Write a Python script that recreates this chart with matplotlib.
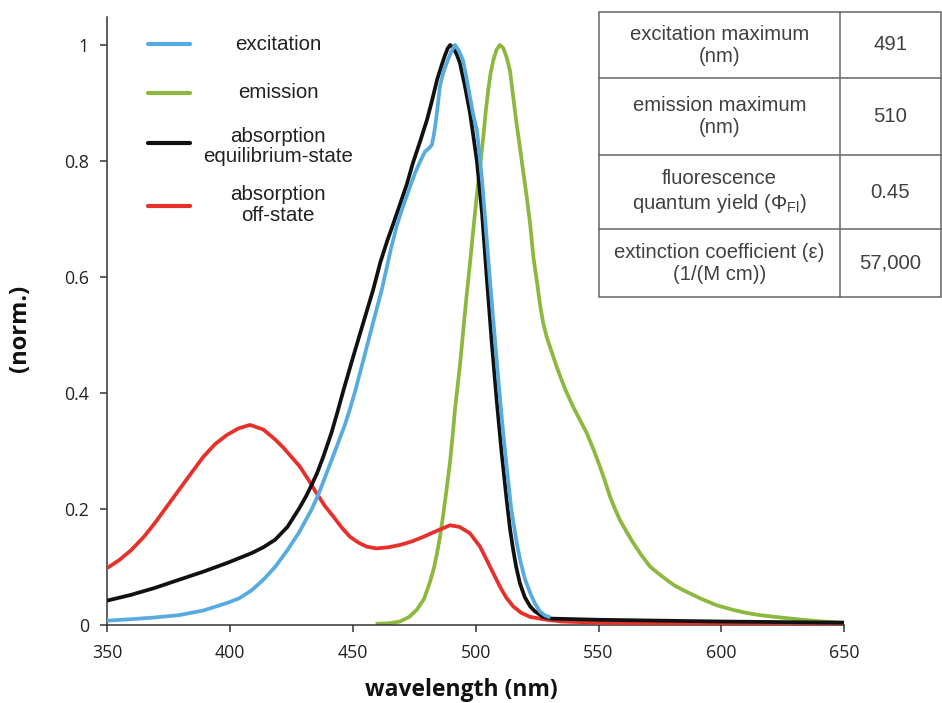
import matplotlib
matplotlib.use("Agg")
import matplotlib.pyplot as plt
from matplotlib.lines import Line2D
from matplotlib.patches import Rectangle

# ---------------- data ----------------
exc_nm = [350, 359.8, 369.5, 379.3, 389.2, 398.9, 403.8, 408.9, 413.6, 418.4, 423.4, 428.2,
          433.1, 436, 438.0, 441, 443.5, 446.8, 448.8, 450.9, 454.2, 458.3, 461.8, 465.5, 468,
          470.4, 473, 475.3, 477.5, 479.4, 481, 482.2, 483, 483.8, 484.7, 485.5, 487, 488.7,
          490.2, 491.6, 493.2, 494.8, 496.2, 497.7, 499, 500.5, 501.6, 502.6, 503.6, 504.6, 506,
          507.5, 509.3, 511, 512.8, 514.5, 516, 517, 518.1, 520, 522.2, 524, 526.2, 528.4, 530.4]
exc_val = [0.0075, 0.010, 0.013, 0.017, 0.025, 0.038, 0.046, 0.060, 0.078, 0.100, 0.129, 0.160,
           0.198, 0.225, 0.247, 0.280, 0.308, 0.345, 0.372, 0.402, 0.455, 0.522, 0.578, 0.648,
           0.690, 0.721, 0.752, 0.779, 0.800, 0.816, 0.822, 0.828, 0.845, 0.868, 0.900, 0.930,
           0.955, 0.974, 0.990, 1.0, 0.990, 0.974, 0.945, 0.910, 0.880, 0.853, 0.810, 0.767,
           0.715, 0.660, 0.585, 0.510, 0.420, 0.340, 0.265, 0.200, 0.160, 0.135, 0.112, 0.080,
           0.055, 0.038, 0.023, 0.016, 0.013]

em_nm = [459.3, 465, 469.2, 473, 476, 479, 481.4, 483, 484.1, 485.5, 486.8, 488, 489.6, 490.6,
         491.6, 492.6, 493.6, 495, 496.3, 497.7, 499, 500.4, 501.8, 503.1, 504.1, 505.1, 506.1,
         507.2, 508.5, 509.9, 511.2, 512.6, 514, 515.3, 516.6, 518, 519.4, 520.8, 522.2, 523.5,
         525, 526.2, 527.5, 528.9, 531, 533, 535, 537.1, 539.7, 542.5, 545.2, 548, 550.6, 552.7,
         554.7, 556.7, 558.7, 561.5, 564.2, 567.5, 570.9, 574.3, 577.7, 581, 584.5, 588, 591.3,
         594.7, 598.1, 604.8, 610, 615.7, 624, 633, 641, 650]
em_val = [0.002, 0.003, 0.006, 0.014, 0.026, 0.045, 0.074, 0.098, 0.120, 0.152, 0.190, 0.228,
          0.282, 0.325, 0.372, 0.410, 0.447, 0.510, 0.567, 0.624, 0.680, 0.738, 0.790, 0.841,
          0.885, 0.922, 0.952, 0.974, 0.992, 1.0, 0.995, 0.979, 0.955, 0.910, 0.866, 0.824,
          0.780, 0.738, 0.690, 0.634, 0.590, 0.552, 0.520, 0.497, 0.470, 0.445, 0.422, 0.400,
          0.376, 0.353, 0.331, 0.302, 0.273, 0.247, 0.221, 0.200, 0.181, 0.160, 0.141, 0.120,
          0.101, 0.089, 0.078, 0.068, 0.060, 0.053, 0.046, 0.040, 0.034, 0.026, 0.021, 0.017,
          0.013, 0.009, 0.006, 0.004]

abs_eq_nm = [350, 359.8, 369.5, 379.3, 389.2, 398.9, 408.9, 413.6, 418.4, 423.4, 428.2, 431,
             433.1, 435.5, 438.0, 441.3, 443.7, 446.1, 450.2, 454.2, 458.3, 461.2, 464, 466.5,
             469.2, 472, 474.5, 477.5, 480.2, 482.3, 484.3, 486, 487.5, 488.6, 489.6, 490.8,
             492.2, 493.6, 495.6, 497.7, 499, 500.5, 502.6, 504.5, 506.5, 508.5, 510.5, 512.5,
             514, 515.3, 516.5, 518, 520, 522.2, 524, 527.4, 531, 550, 600, 650]
abs_eq_val = [0.042, 0.052, 0.064, 0.078, 0.092, 0.107, 0.124, 0.134, 0.147, 0.169, 0.201, 0.222,
              0.240, 0.262, 0.290, 0.331, 0.366, 0.403, 0.463, 0.520, 0.578, 0.625, 0.662,
              0.692, 0.725, 0.760, 0.797, 0.835, 0.871, 0.905, 0.940, 0.963, 0.982, 0.994, 1.0,
              0.996, 0.985, 0.969, 0.930, 0.883, 0.845, 0.800, 0.710, 0.600, 0.490, 0.390,
              0.300, 0.220, 0.165, 0.129, 0.100, 0.072, 0.048, 0.032, 0.024, 0.014, 0.011,
              0.009, 0.006, 0.004]

abs_off_nm = [350, 355, 359.8, 365, 369.5, 374.5, 379.3, 384.3, 389.2, 394, 398.9, 403.5, 408.2,
              413.6, 418.4, 421.7, 425, 428.5, 432, 435.3, 438.7, 442.1, 445.5, 448.9, 452.3,
              455.7, 459.7, 464.5, 469.2, 474, 478.7, 484, 489.6, 493.5, 497.7, 501.8, 505.8,
              509.9, 512.5, 515.3, 518.5, 522.1, 528.9, 535, 550, 600, 650]
abs_off_val = [0.098, 0.112, 0.129, 0.152, 0.176, 0.205, 0.233, 0.262, 0.290, 0.312, 0.328,
               0.339, 0.345, 0.337, 0.320, 0.306, 0.290, 0.273, 0.250, 0.227, 0.205, 0.187,
               0.168, 0.152, 0.142, 0.135, 0.132, 0.134, 0.138, 0.144, 0.152, 0.162, 0.172,
               0.169, 0.158, 0.135, 0.101, 0.066, 0.047, 0.032, 0.021, 0.014, 0.009, 0.006,
               0.004, 0.002, 0.002]

series_labels = ["excitation", "emission", "absorption\nequilibrium-state", "absorption\noff-state"]
series_colors = ["#58abe0", "#8cb83e", "#111111", "#e8302a"]

x_ticks = [350, 400, 450, 500, 550, 600, 650]
y_ticks = [0, 0.2, 0.4, 0.6, 0.8, 1.0]
y_tick_labels = ["0", "0.2", "0.4", "0.6", "0.8", "1"]

table_props = ["excitation maximum\n(nm)", "emission maximum\n(nm)",
               "fluorescence\nquantum yield (Φ$_{\\mathregular{Fl}}$)",
               "extinction coefficient (ε)\n(1/(M cm))"]
table_vals = ["491", "510", "0.45", "57,000"]

# ---------------- figure ----------------
W, H = 942, 703
fig = plt.figure(figsize=(W / 100, H / 100), dpi=100)
fig.patch.set_facecolor("white")


def fx(px):
    return px / W


def fy(py):
    return 1 - py / H


ax_l, ax_r, ax_b, ax_t = 107, 844.3, 625, 17
ax = fig.add_axes([fx(ax_l), fy(ax_b), (ax_r - ax_l) / W, (ax_b - ax_t) / H])

lw = 2.7
kw = dict(lw=lw, solid_capstyle="butt", solid_joinstyle="round")
ax.plot(em_nm, em_val, color=series_colors[1], zorder=2, **kw)
ax.plot(abs_off_nm, abs_off_val, color=series_colors[3], zorder=3, **kw)
ax.plot(abs_eq_nm, abs_eq_val, color=series_colors[2], zorder=4, **kw)
ax.plot(exc_nm, exc_val, color=series_colors[0], zorder=5, **kw)

ax.set_xlim(350, 650)
ax.set_ylim(0, (ax_b - ax_t) / 580)
ax.set_xticks(x_ticks)
ax.set_yticks(y_ticks)
ax.set_yticklabels(y_tick_labels)
for s in ["top", "right"]:
    ax.spines[s].set_visible(False)
for s in ["left", "bottom"]:
    ax.spines[s].set_color("#333333")
    ax.spines[s].set_linewidth(1.1)
ax.tick_params(axis="both", direction="out", length=5, width=1.1, color="#333333",
               labelsize=12.8, labelcolor="#222222")
ax.tick_params(axis="y", pad=8)
ax.tick_params(axis="x", pad=9)
for lab in ax.get_xticklabels() + ax.get_yticklabels():
    lab.set_fontfamily("Open Sans")

fig.text(fx(461), fy(690), "wavelength (nm)", ha="center", va="center",
         fontsize=16.5, fontweight="bold", family="Open Sans", color="#111111")
fig.text(fx(20), fy(328), "(norm.)", ha="center", va="center", rotation=90,
         fontsize=17, fontweight="bold", family="Open Sans", color="#111111")

# ---------------- legend (manual) ----------------
leg_rows_y = [44, 93, 143, 206]
leg_text_y = [44, 93, 146.5, 205]
for i, (yy, ty) in enumerate(zip(leg_rows_y, leg_text_y)):
    fig.add_artist(Line2D([fx(148), fx(190)], [fy(yy), fy(yy)], color=series_colors[i],
                          lw=3.0, solid_capstyle="round"))
    fig.text(fx(278), fy(ty), series_labels[i], ha="center", va="center",
             fontsize=14.8, family="Liberation Sans", color="#222222", linespacing=1.12,
             multialignment="center")

# ---------------- table (manual) ----------------
tx0, tx1, tx2 = 599, 840, 941
rows = [12, 78, 155, 229, 297]
edge = "#666666"
fig.add_artist(Rectangle((fx(tx0), fy(rows[-1])), fx(tx2) - fx(tx0), fy(rows[0]) - fy(rows[-1]),
                         fill=False, edgecolor=edge, lw=1.1))
fig.add_artist(Line2D([fx(tx1), fx(tx1)], [fy(rows[0]), fy(rows[-1])], color=edge, lw=1.1))
for r in rows[1:-1]:
    fig.add_artist(Line2D([fx(tx0), fx(tx2)], [fy(r), fy(r)], color=edge, lw=1.1))
for k in range(4):
    cy = (rows[k] + rows[k + 1]) / 2
    fig.text(fx((tx0 + tx1) / 2), fy(cy), table_props[k], ha="center", va="center",
             fontsize=14.6, family="Liberation Sans", color="#404040", linespacing=1.2,
             multialignment="center")
    fig.text(fx((tx1 + tx2) / 2), fy(cy), table_vals[k], ha="center", va="center",
             fontsize=14.6, family="Liberation Sans", color="#404040")

fig.savefig("out.png", dpi=100, facecolor="white")
